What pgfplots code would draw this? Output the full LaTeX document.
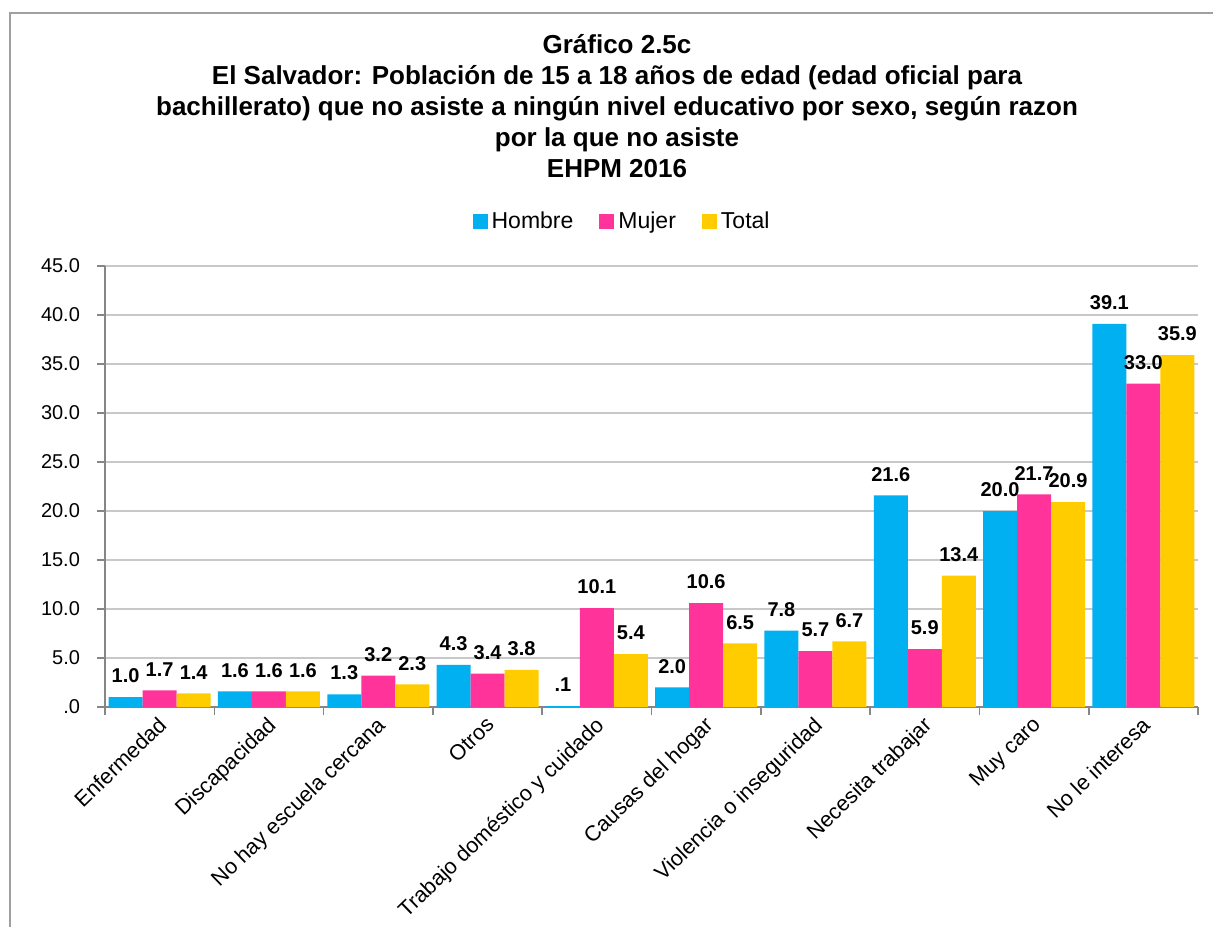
\documentclass[border=0pt]{standalone}
\usepackage{fontspec}
\setmainfont{Liberation Sans}
\usepackage{pgfplots}
\pgfplotsset{compat=1.18}
\definecolor{hombre}{RGB}{0,176,240}
\definecolor{mujer}{RGB}{255,51,153}
\definecolor{total}{RGB}{255,204,0}
\definecolor{framegray}{RGB}{160,160,160}
\definecolor{axgray}{RGB}{134,134,134}
\definecolor{gridgray}{RGB}{200,200,200}

\begin{document}
\begin{tikzpicture}
\path[use as bounding box] (0,0) rectangle (606.5pt,-463.5pt);
\draw[framegray, line width=0.8pt] (5pt,-463.5pt) -- (5pt,-6.5pt) -- (606.5pt,-6.5pt);
\node[align=center, font=\fontsize{13}{15.5}\selectfont\bfseries, anchor=north, inner sep=0pt]
  at (308.5pt,-17pt) {Gráfico 2.5c\\
  El Salvador: Población de 15 a 18 años de edad (edad oficial para\\
  bachillerato) que no asiste a ningún nivel educativo por sexo, según razon\\
  por la que no asiste\\
  EHPM 2016};
\begin{axis}[
  at={(52.5pt,-133pt)}, anchor=north west,
  width=546.5pt, height=220.5pt, scale only axis,
  ybar=0pt, bar width=17pt,
  xmin=-0.5, xmax=9.5, ymin=0, ymax=45,
  axis x line*=bottom, axis y line*=left,
  axis line style={axgray, line width=0.8pt},
  xtick={0,...,9},
  xticklabels={Enfermedad, Discapacidad, No hay escuela cercana, Otros,
    Trabajo doméstico y cuidado, Causas del hogar, Violencia o inseguridad,
    Necesita trabajar, Muy caro, No le interesa},
  xticklabel style={rotate=44, anchor=north east, font=\fontsize{10.8}{12}\selectfont, inner sep=1pt, yshift=2pt},
  xtick style={draw=none},
  extra x ticks={-0.5,0.5,...,9.5},
  extra x tick labels={},
  extra x tick style={grid=none, xtick style={draw=axgray, line width=0.8pt}},
  ytick={0,5,...,45},
  yticklabels={.0,5.0,10.0,15.0,20.0,25.0,30.0,35.0,40.0,45.0},
  yticklabel style={font=\fontsize{10}{11}\selectfont, xshift=-5pt},
  ytick style={draw=axgray, line width=0.8pt},
  tick align=outside, major tick length=4pt,
  ymajorgrids, grid style={gridgray, line width=0.8pt},
  point meta=explicit symbolic,
  nodes near coords,
  nodes near coords style={font=\fontsize{10}{11}\selectfont\bfseries, anchor=south, yshift=3.5pt, text=black},
  legend columns=3,
  legend style={draw=none, at={(axis description cs:0.474,1.1)}, anchor=center,
    font=\fontsize{11.5}{13}\selectfont,
    /tikz/every even column/.append style={column sep=11pt}},
  legend image code/.code={\fill[#1] (0pt,-3.75pt) rectangle (7.5pt,3.75pt);},
  clip=false,
]
\addplot[fill=hombre, draw=none] coordinates {
  (0,1.0)[1.0] (1,1.6)[1.6] (2,1.3)[1.3] (3,4.3)[4.3] (4,0.1)[.1]
  (5,2.0)[2.0] (6,7.8)[7.8] (7,21.6)[21.6] (8,20.0)[20.0] (9,39.1)[39.1]};
\addplot[fill=mujer, draw=none] coordinates {
  (0,1.7)[1.7] (1,1.6)[1.6] (2,3.2)[3.2] (3,3.4)[3.4] (4,10.1)[10.1]
  (5,10.6)[10.6] (6,5.7)[5.7] (7,5.9)[5.9] (8,21.7)[21.7] (9,33.0)[33.0]};
\addplot[fill=total, draw=none] coordinates {
  (0,1.4)[1.4] (1,1.6)[1.6] (2,2.3)[2.3] (3,3.8)[3.8] (4,5.4)[5.4]
  (5,6.5)[6.5] (6,6.7)[6.7] (7,13.4)[13.4] (8,20.9)[20.9] (9,35.9)[35.9]};
\legend{Hombre, Mujer, Total}
\end{axis}
\end{tikzpicture}
\end{document}
